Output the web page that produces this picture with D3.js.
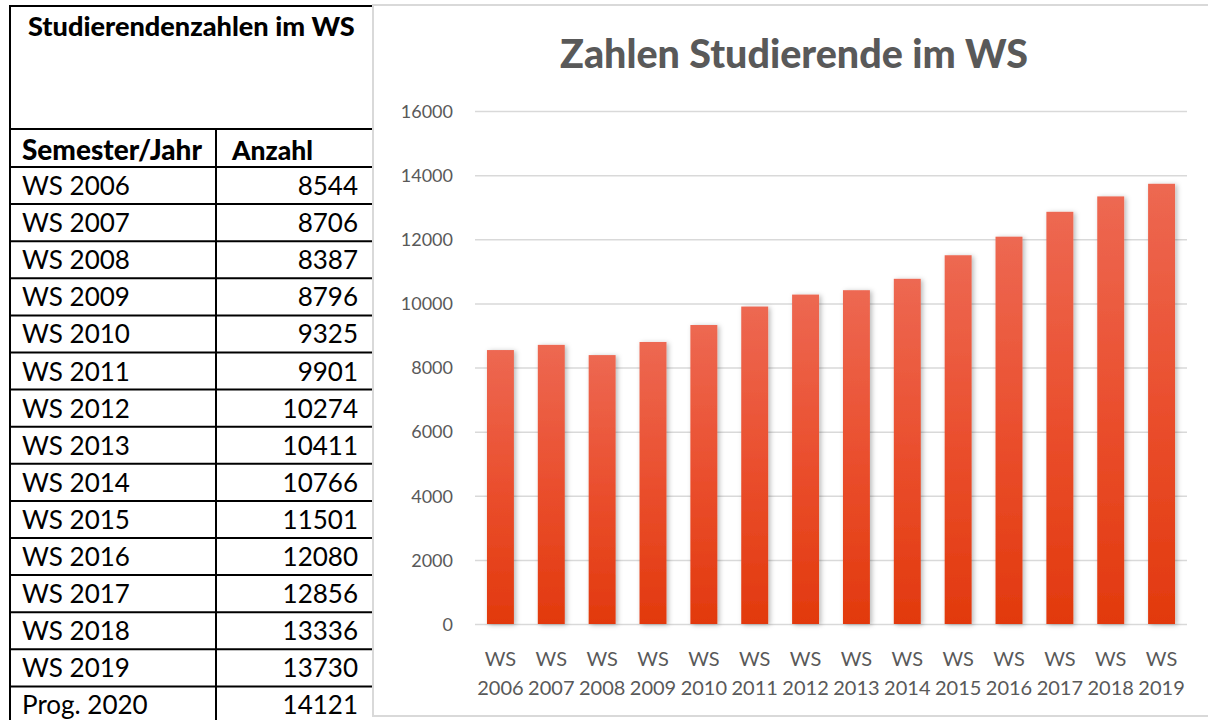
<!DOCTYPE html>
<html>
<head>
<meta charset="utf-8">
<script src="https://cdn.jsdelivr.net/npm/d3@7"></script>
<style>
  body { margin: 0; background: #fff; }
  svg { display: block; font-family: Lato, "Open Sans", sans-serif; }
</style>
</head>
<body>
<svg id="chart" width="1208" height="720"></svg>
<script>
// table rows (the last one is only a forecast, not in the chart)
const semesters = ["WS 2006", "WS 2007", "WS 2008", "WS 2009", "WS 2010", "WS 2011", "WS 2012",
  "WS 2013", "WS 2014", "WS 2015", "WS 2016", "WS 2017", "WS 2018", "WS 2019", "Prog. 2020"];
const counts = [8544, 8706, 8387, 8796, 9325, 9901, 10274, 10411, 10766, 11501, 12080, 12856, 13336, 13730, 14121];
const yTicks = [0, 2000, 4000, 6000, 8000, 10000, 12000, 14000, 16000];

const tableTitle = "Studierendenzahlen im WS";
const tableHead = ["Semester/Jahr", "Anzahl"];
const chartTitle = "Zahlen Studierende im WS";

const FONT = "Lato, 'Open Sans', sans-serif";
const svg = d3.select("#chart");

// fit a text element to a width by adjusting its font size
function fitWidth(sel, w) {
  const node = sel.node();
  const fs = parseFloat(sel.attr("font-size"));
  const len = node.getComputedTextLength();
  sel.attr("font-size", (fs * w / len).toFixed(2));
  return fs * w / len;
}

// ---------- Table ----------
const tab = svg.append("g");
const tLeft = 10, tRight = 372, tTop = 6, colX = 216;
const headY = 129, rowH = 37.1;
const firstRowY = headY + 38;

tab.append("line").attr("x1", tLeft).attr("x2", tRight).attr("y1", tTop).attr("y2", tTop)
  .attr("stroke", "#000").attr("stroke-width", 2);
tab.append("line").attr("x1", tLeft).attr("x2", tLeft).attr("y1", tTop - 1).attr("y2", 720)
  .attr("stroke", "#000").attr("stroke-width", 2);
tab.append("line").attr("x1", colX).attr("x2", colX).attr("y1", headY).attr("y2", 720)
  .attr("stroke", "#000").attr("stroke-width", 2);

const rowLines = [headY, firstRowY].concat(semesters.map((d, i) => firstRowY + (i + 1) * rowH));
tab.selectAll(".rowline")
  .data(rowLines)
  .enter().append("line")
  .attr("class", "rowline")
  .attr("x1", tLeft).attr("x2", tRight + 2)
  .attr("y1", d => d).attr("y2", d => d)
  .attr("stroke", "#000").attr("stroke-width", 2);

const tt = tab.append("text")
  .attr("x", 28).attr("y", 36)
  .attr("font-size", 22).attr("font-weight", 900)
  .attr("fill", "#000")
  .text(tableTitle);
fitWidth(tt, 327);

const h1 = tab.append("text").attr("x", 22).attr("y", 160)
  .attr("font-size", 22).attr("font-weight", 900).text(tableHead[0]);
fitWidth(h1, 180);
const h2 = tab.append("text").attr("x", 232).attr("y", 160)
  .attr("font-size", 22).attr("font-weight", 900).text(tableHead[1]);
fitWidth(h2, 81);

const probe = tab.append("text").attr("font-size", 22).text(semesters[0]);
const bodySize = fitWidth(probe, 108);
probe.remove();

tab.selectAll(".sem")
  .data(semesters)
  .enter().append("text")
  .attr("class", "sem")
  .attr("x", 22)
  .attr("y", (d, i) => firstRowY + i * rowH + 28)
  .attr("font-size", bodySize)
  .text(d => d);

tab.selectAll(".cnt")
  .data(counts)
  .enter().append("text")
  .attr("class", "cnt")
  .attr("x", 358)
  .attr("y", (d, i) => firstRowY + i * rowH + 28)
  .attr("text-anchor", "end")
  .attr("font-size", bodySize)
  .text(d => d);

// ---------- Chart ----------
const frame = { x: 373, y: 5, w: 845, h: 711 };
svg.append("rect")
  .attr("x", frame.x).attr("y", frame.y)
  .attr("width", frame.w).attr("height", frame.h)
  .attr("fill", "#fff").attr("stroke", "#d9d9d9").attr("stroke-width", 2);

const defs = svg.append("defs");
const grad = defs.append("linearGradient")
  .attr("id", "barGrad").attr("x1", 0).attr("y1", 0).attr("x2", 0).attr("y2", 1);
grad.append("stop").attr("offset", "0%").attr("stop-color", "#ed6852");
grad.append("stop").attr("offset", "50%").attr("stop-color", "#ea4f2e");
grad.append("stop").attr("offset", "100%").attr("stop-color", "#e2390d");

const shadow = defs.append("filter").attr("id", "shadow")
  .attr("x", "-30%").attr("y", "-10%").attr("width", "170%").attr("height", "130%");
shadow.append("feDropShadow")
  .attr("dx", 2).attr("dy", 1).attr("stdDeviation", 2.5)
  .attr("flood-color", "#000").attr("flood-opacity", 0.28);

const chartCats = semesters.slice(0, 14);
const chartVals = counts.slice(0, 14);

const x = d3.scaleBand()
  .domain(chartCats)
  .range([475, 1187])
  .paddingInner(0.47)
  .paddingOuter(0.235);

const y = d3.scaleLinear()
  .domain([0, 16000])
  .range([624, 111]);

const ct = svg.append("text")
  .attr("x", 794).attr("y", 68)
  .attr("text-anchor", "middle")
  .attr("font-size", 34).attr("font-weight", 900)
  .attr("fill", "#595959")
  .text(chartTitle);
fitWidth(ct, 468);

// gridlines + y labels
const yAxis = svg.append("g")
  .attr("transform", "translate(475,0)")
  .call(d3.axisLeft(y).tickValues(yTicks).tickSize(-712).tickPadding(22).tickFormat(d3.format("d")))
  .attr("font-family", FONT)
  .attr("font-size", 18);
yAxis.select(".domain").remove();
yAxis.selectAll(".tick line").attr("stroke", "#d9d9d9").attr("stroke-width", 1.5);
yAxis.selectAll(".tick text").attr("fill", "#595959").attr("dy", "0.35em");

// bars
svg.append("g").selectAll(".bar")
  .data(chartVals)
  .enter().append("rect")
  .attr("class", "bar")
  .attr("x", (d, i) => x(chartCats[i]))
  .attr("y", d => y(d))
  .attr("width", x.bandwidth())
  .attr("height", d => y(0) - y(d))
  .attr("fill", "url(#barGrad)")
  .attr("filter", "url(#shadow)");

// x labels, two lines each
const xAxis = svg.append("g")
  .attr("transform", `translate(0,${y(0)})`)
  .call(d3.axisBottom(x).tickSize(0).tickFormat(""))
  .attr("font-family", FONT)
  .attr("font-size", 20);
xAxis.select(".domain").remove();
xAxis.selectAll(".tick").append("text")
  .attr("fill", "#595959")
  .attr("text-anchor", "middle")
  .attr("y", 42)
  .each(function(d) {
    const parts = d.split(" ");
    const t = d3.select(this);
    t.append("tspan").attr("x", 0).text(parts[0]);
    t.append("tspan").attr("x", 0).attr("dy", 29).text(parts[1]);
  });
</script>
</body>
</html>
